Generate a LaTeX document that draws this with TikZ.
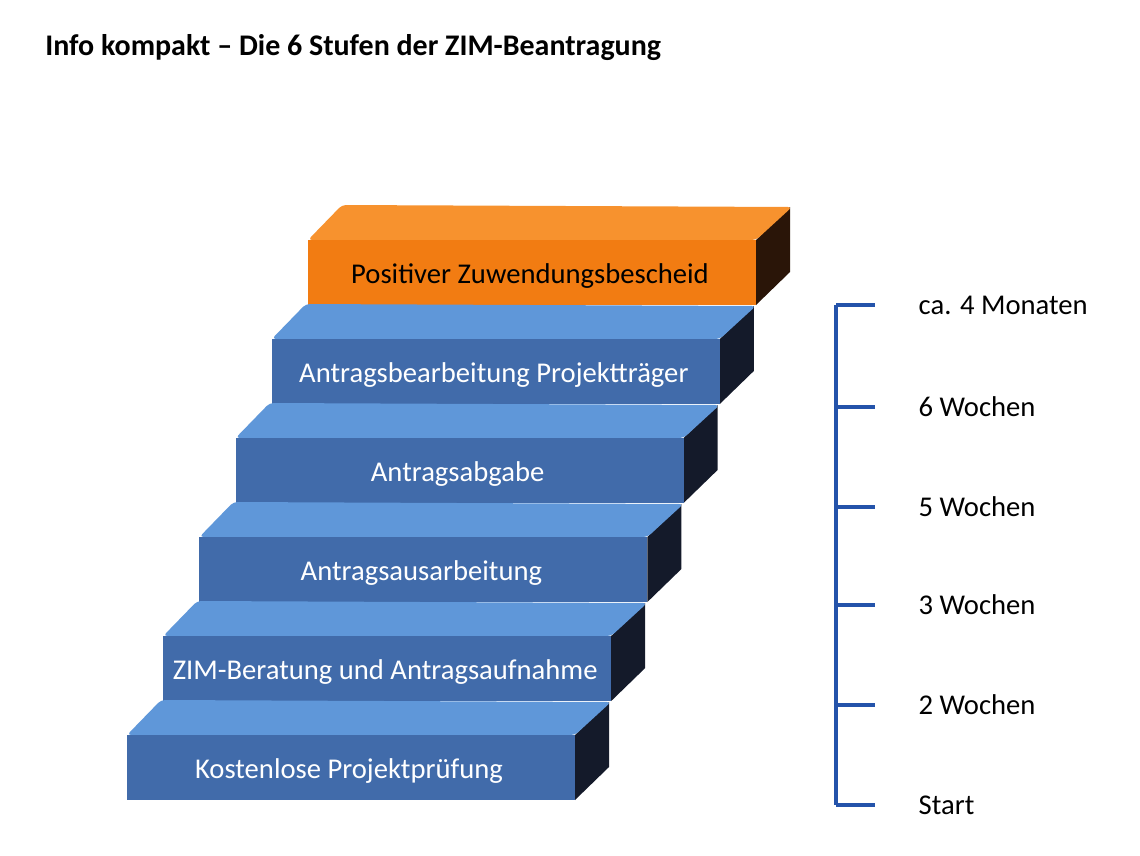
\documentclass[tikz,border=0pt]{standalone}
\usepackage{fontspec}
\setmainfont{Carlito}
\definecolor{topb}{HTML}{5F97D9}
\definecolor{frontb}{HTML}{416BAA}
\definecolor{sideb}{HTML}{141A2A}
\definecolor{topo}{HTML}{F7922E}
\definecolor{fronto}{HTML}{F27C12}
\definecolor{sideo}{HTML}{2A1508}
\definecolor{tl}{HTML}{2453AA}
\tikzset{lbl/.style={font=\fontsize{21.5}{25}\selectfont, text=white},
 tick/.style={draw=tl, line width=3pt},
 tlab/.style={anchor=west, font=\fontsize{21.5}{25}\selectfont}}
\begin{document}
\begin{tikzpicture}[x=0.0264cm,y=-0.0264cm]
\useasboundingbox (0,0) rectangle (1140,855);
\node[anchor=west, inner sep=0pt, font=\bfseries\fontsize{22.5}{26}\selectfont] (title) at (45,48) {Info kompakt -- Die 6 Stufen der ZIM-Beantragung};
\foreach \i/\t in {5/{Positiver Zuwendungsbescheid},4/{Antragsbearbeitung Projektträger},3/{Antragsabgabe},2/{Antragsausarbeitung},1/{ZIM-Beratung und Antragsaufnahme},0/{Kostenlose Projektprüfung}}{
  \pgfmathsetmacro{\X}{127+36.2*\i}
  \pgfmathsetmacro{\Y}{735-99*\i}
  \ifnum\i=5 \def\ct{topo}\def\cf{fronto}\def\cs{sideo}\def\tc{black}\else\def\ct{topb}\def\cf{frontb}\def\cs{sideb}\def\tc{white}\fi
  \fill[\cs] (\X+448,\Y) -- (\X+482,\Y-33) -- (\X+482,\Y+32) -- (\X+448,\Y+65) -- cycle;
  \fill[\ct,rounded corners=3pt] (\X,\Y) -- (\X+34,\Y-35) -- (\X+484,\Y-33) -- (\X+448,\Y) -- cycle;
  \fill[\cf] (\X,\Y) rectangle (\X+448,\Y+65);
  \node[lbl,text=\tc] (s\i) at (\X+222,\Y+36) {\t};
}
\draw[tl, line width=3pt] (836,305) -- (836,805);
\foreach \y/\t [count=\k] in {305/{ca. 4 Monaten},407/{6 Wochen},507/{5 Wochen},605/{3 Wochen},705/{2 Wochen},805/{Start}}{
  \draw[tick] (836,\y) -- (875,\y);
  \node[tlab] (t\k) at (914,\y) {\t};
}
\end{tikzpicture}
\end{document}
